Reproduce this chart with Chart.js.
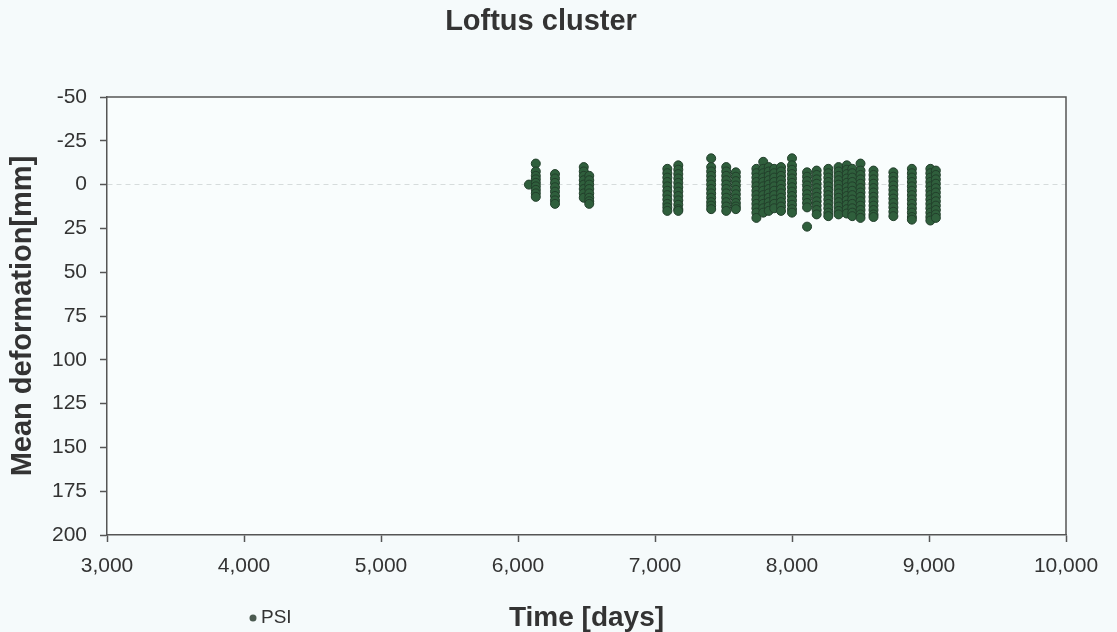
<!DOCTYPE html>
<html>
<head>
<meta charset="utf-8">
<title>Loftus cluster</title>
<script src="https://cdn.jsdelivr.net/npm/chart.js@4.4.0/dist/chart.umd.min.js"></script>
<style>
    html, body { margin: 0; padding: 0; background: #f5fafb; }
    #wrap { width: 1117px; height: 632px; }
</style>
</head>
<body>
<div id="wrap"><canvas id="loftusChart" width="1117" height="632"></canvas></div>
<script>
// Données
const chartTitle = 'Loftus cluster';
const seriesLabel = 'PSI';
const xTitle = 'Time [days]';
const yTitle = 'Mean deformation[mm]';

const xTicks = [3000, 4000, 5000, 6000, 7000, 8000, 9000, 10000];
const yTicks = [-50, -25, 0, 25, 50, 75, 100, 125, 150, 175, 200];

// jours d'acquisition (une colonne de points par jour)
const acquisitionDays = [
    6080, 6130, 6270, 6480, 6520,
    7090, 7170, 7410, 7520, 7590,
    7740, 7790, 7830, 7870, 7920, 8000,
    8110, 8180, 8265, 8340, 8400, 8440, 8500,
    8595, 8740, 8875, 9010, 9050
];

// déformation (mm) de chaque PSI pour chaque jour
const deformationByDay = [
    [0],
    [-12, -7.5, -5, -3, -1, 1, 3, 5, 7],
    [-6, -3.5, -1, 1.5, 4, 6.5, 9, 11],
    [-10, -7.5, -5, -2.5, 0, 2.5, 5, 7.5],
    [-5, -2.5, 0, 2.5, 5, 7.5, 9.5, 11],
    [-9, -6.5, -4, -1.5, 1, 3.5, 6, 8.5, 11, 13, 15],
    [-11, -8.5, -6, -3.5, -1, 1.5, 4, 6.5, 9, 11.5, 14, 15],
    [-15, -10, -7.5, -5, -2.5, 0, 2.5, 5, 7.5, 10, 12, 14],
    [-10, -7.5, -5, -2.5, 0, 2.5, 5, 7.5, 10, 12.5, 15],
    [-7, -4.5, -2, 0.5, 3, 5.5, 8, 10.5, 12.5, 14],
    [-9, -6.5, -4, -1.5, 1, 3.5, 6, 8.5, 11, 13.5, 16, 19],
    [-13, -9, -6.5, -4, -1.5, 1, 3.5, 6, 8.5, 11, 13.5, 16],
    [-10, -7.5, -5, -2.5, 0, 2.5, 5, 7.5, 10, 12.5, 15],
    [-9, -6.5, -4, -1.5, 1, 3.5, 6, 8.5, 11, 13.5],
    [-10, -7.5, -5, -2.5, 0, 2.5, 5, 7.5, 10, 12.5, 15],
    [-15, -11, -8.5, -6, -3.5, -1, 1.5, 4, 6.5, 9, 11.5, 14, 16],
    [-7, -4.5, -2, 0.5, 3, 5.5, 8, 10.5, 13, 24],
    [-8, -5.5, -3, -0.5, 2, 4.5, 7, 9.5, 12, 14.5, 17],
    [-9, -6.5, -4, -1.5, 1, 3.5, 6, 8.5, 11, 13.5, 16, 18],
    [-10, -7.5, -5, -2.5, 0, 2.5, 5, 7.5, 10, 12.5, 15, 17],
    [-11, -8.5, -6, -3.5, -1, 1.5, 4, 6.5, 9, 11.5, 14, 16.5],
    [-9, -6.5, -4, -1.5, 1, 3.5, 6, 8.5, 11, 13.5, 16, 18],
    [-12, -8, -5.5, -3, -0.5, 2, 4.5, 7, 9.5, 12, 14.5, 17, 19],
    [-8, -5.5, -3, -0.5, 2, 4.5, 7, 9.5, 12, 14.5, 17, 18.5],
    [-7, -4.5, -2, 0.5, 3, 5.5, 8, 10.5, 13, 15.5, 18],
    [-9, -6.5, -4, -1.5, 1, 3.5, 6, 8.5, 11, 13.5, 16, 18.5, 20],
    [-9, -6.5, -4, -1.5, 1, 3.5, 6, 8.5, 11, 13.5, 16, 18.5, 20.5],
    [-8, -5.5, -3, -0.5, 2, 4.5, 7, 9.5, 12, 14.5, 17, 19]
];

const FONT = '"Liberation Sans", Arial, sans-serif';
const TEXT = '#333333';
const AXIS = '#555555';

const psiPoints = acquisitionDays.flatMap((day, i) =>
    deformationByDay[i].map(v => ({ x: day, y: v }))
);

// Cadre du graphique + légende en bas à gauche
const frameAndLegend = {
    id: 'frameAndLegend',
    beforeDraw(chart) {
        const { ctx, chartArea: a } = chart;
        ctx.save();
        ctx.fillStyle = '#f5fafb';
        ctx.fillRect(0, 0, chart.width, chart.height);
        ctx.fillStyle = '#f9fdfd';
        ctx.fillRect(a.left, a.top, a.right - a.left, a.bottom - a.top);
        ctx.restore();
    },
    afterDraw(chart) {
        const { ctx, chartArea: a } = chart;
        const ds = chart.data.datasets[0];
        ctx.save();
        ctx.strokeStyle = AXIS;
        ctx.lineWidth = 1.5;
        ctx.beginPath();
        ctx.moveTo(a.left, a.top);
        ctx.lineTo(a.right, a.top);
        ctx.lineTo(a.right, a.bottom);
        ctx.stroke();

        // légende
        ctx.fillStyle = '#4b5a50';
        ctx.beginPath();
        ctx.arc(253, 618, 3.5, 0, Math.PI * 2);
        ctx.fill();
        ctx.fillStyle = TEXT;
        ctx.font = '19px ' + FONT;
        ctx.textBaseline = 'middle';
        ctx.fillText(ds.label, 261, 618);
        ctx.restore();
    }
};

function initializeChart() {
    const ctx = document.getElementById('loftusChart').getContext('2d');
    new Chart(ctx, {
        type: 'scatter',
        data: {
            datasets: [{
                label: seriesLabel,
                data: psiPoints,
                pointRadius: 4.5,
                pointHoverRadius: 4.5,
                backgroundColor: '#2f5f3c',
                borderColor: '#223f2b',
                borderWidth: 1
            }]
        },
        options: {
            responsive: false,
            animation: false,
            devicePixelRatio: 1,
            layout: { padding: { left: 16, right: 51, top: 0, bottom: 0 } },
            plugins: {
                legend: { display: false },
                tooltip: { enabled: false },
                title: {
                    display: true,
                    text: chartTitle,
                    color: TEXT,
                    font: { family: FONT, size: 29, weight: 'bold', lineHeight: 1 },
                    padding: { top: 7, bottom: 61 }
                }
            },
            scales: {
                x: {
                    type: 'linear',
                    position: 'bottom',
                    min: xTicks[0],
                    max: xTicks[xTicks.length - 1],
                    afterBuildTicks: axis => { axis.ticks = xTicks.map(v => ({ value: v })); },
                    afterFit: scale => { scale.height = 97; },
                    ticks: {
                        color: TEXT,
                        font: { family: FONT, size: 21 },
                        padding: 12,
                        maxRotation: 0,
                        autoSkip: false,
                        callback: v => v.toLocaleString('en-US')
                    },
                    grid: {
                        drawOnChartArea: false,
                        tickLength: 7,
                        tickColor: AXIS,
                        tickWidth: 1.5
                    },
                    border: { color: AXIS, width: 1.5 },
                    title: {
                        display: true,
                        text: xTitle,
                        color: TEXT,
                        font: { family: FONT, size: 28, weight: 'bold', lineHeight: 1 },
                        padding: { top: 0, bottom: 0 }
                    }
                },
                y: {
                    type: 'linear',
                    reverse: true,
                    min: yTicks[0],
                    max: yTicks[yTicks.length - 1],
                    afterBuildTicks: axis => { axis.ticks = yTicks.map(v => ({ value: v })); },
                    afterFit: scale => { scale.width = 91; },
                    ticks: {
                        color: TEXT,
                        font: { family: FONT, size: 21 },
                        padding: 13,
                        autoSkip: false
                    },
                    grid: {
                        color: c => (c.tick && c.tick.value === 0) ? '#d6dcdc' : 'rgba(0,0,0,0)',
                        lineWidth: 1,
                        tickLength: 7,
                        tickColor: AXIS,
                        tickWidth: 1.5
                    },
                    border: { color: AXIS, width: 1.5, dash: [5, 4] },
                    title: {
                        display: true,
                        text: yTitle,
                        color: TEXT,
                        font: { family: FONT, size: 29, weight: 'bold', lineHeight: 1 },
                        padding: { top: -8, bottom: 0 }
                    }
                }
            }
        },
        plugins: [frameAndLegend]
    });
}

document.addEventListener('DOMContentLoaded', initializeChart);
</script>
</body>
</html>
